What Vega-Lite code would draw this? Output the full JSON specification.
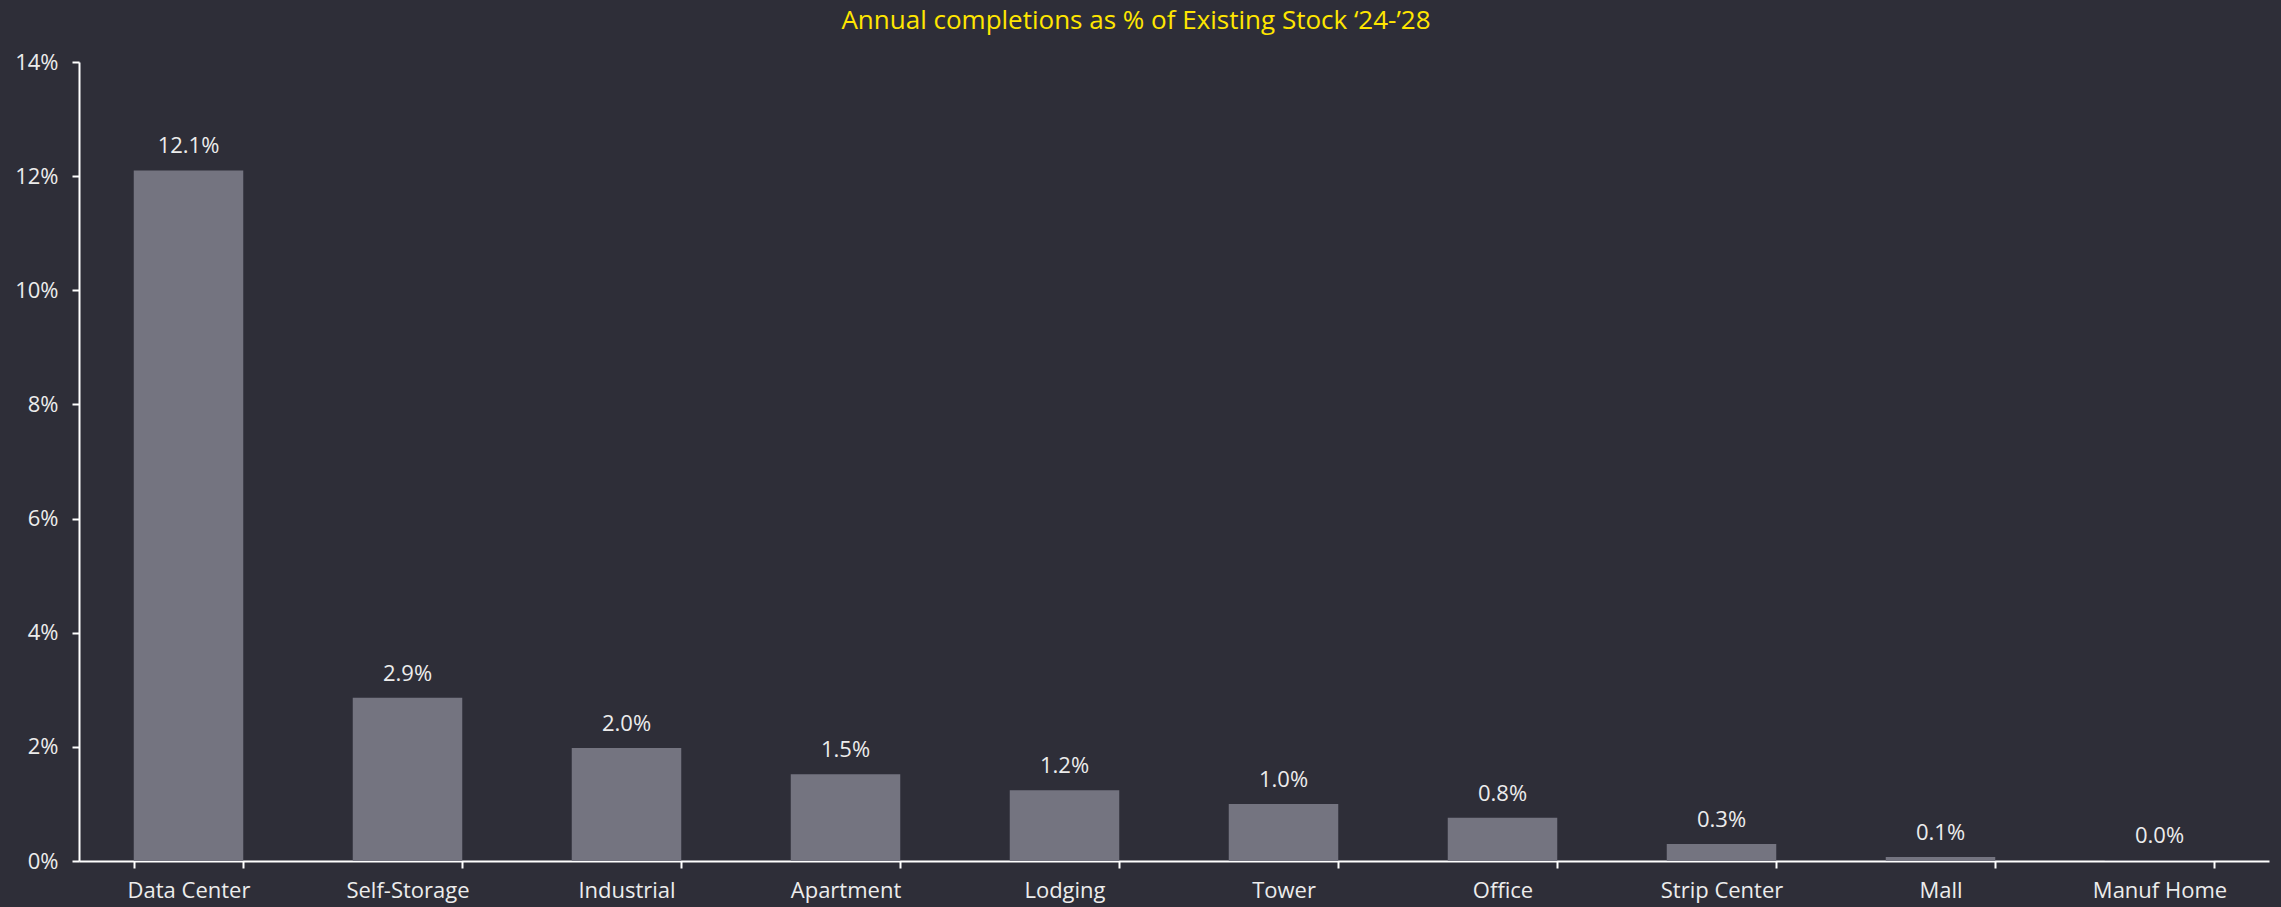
{
  "$schema": "https://vega.github.io/schema/vega-lite/v6.json",
  "width": 2190,
  "height": 799,
  "autosize": {"type": "none"},
  "padding": {"left": 79, "top": 62, "right": 12, "bottom": 46},
  "background": "#2e2e38",
  "config": {"view": {"stroke": null}, "font": "Open Sans"},
  "title": {
    "text": "Annual completions as % of Existing Stock ‘24-’28",
    "color": "#ffe600",
    "fontSize": 26,
    "fontWeight": "normal",
    "font": "Open Sans",
    "anchor": "middle",
    "dx": -38,
    "offset": 17
  },
  "data": {
    "values": [
      {"type": "Data Center", "value": 0.121},
      {"type": "Self-Storage", "value": 0.0286},
      {"type": "Industrial", "value": 0.0198},
      {"type": "Apartment", "value": 0.0152},
      {"type": "Lodging", "value": 0.0124},
      {"type": "Tower", "value": 0.0100},
      {"type": "Office", "value": 0.0076},
      {"type": "Strip Center", "value": 0.0030},
      {"type": "Mall", "value": 0.0007},
      {"type": "Manuf Home", "value": 0.0001}
    ]
  },
  "encoding": {
    "x": {
      "field": "type",
      "type": "nominal",
      "sort": null,
      "scale": {"paddingInner": 0.5, "paddingOuter": 0.25},
      "axis": {
        "title": null,
        "labelAngle": 0,
        "labelColor": "#ececec",
        "labelFontSize": 22,
        "labelPadding": 12,
        "domainColor": "#ffffff",
        "domainWidth": 2,
        "tickColor": "#ffffff",
        "tickWidth": 2,
        "tickSize": 7,
        "tickBand": "extent",
        "grid": false
      }
    },
    "y": {
      "field": "value",
      "type": "quantitative",
      "scale": {"domain": [0, 0.14], "nice": false},
      "axis": {
        "title": null,
        "format": ".0%",
        "values": [0, 0.02, 0.04, 0.06, 0.08, 0.1, 0.12, 0.14],
        "labelColor": "#ececec",
        "labelFontSize": 22,
        "labelPadding": 14,
        "domainColor": "#ffffff",
        "domainWidth": 2,
        "tickColor": "#ffffff",
        "tickWidth": 2,
        "tickSize": 7,
        "grid": false
      }
    }
  },
  "layer": [
    {"mark": {"type": "bar", "color": "#747480"}},
    {
      "mark": {"type": "text", "baseline": "bottom", "dy": -12, "color": "#ececec", "fontSize": 22},
      "encoding": {"text": {"field": "value", "type": "quantitative", "format": ".1%"}}
    }
  ]
}
